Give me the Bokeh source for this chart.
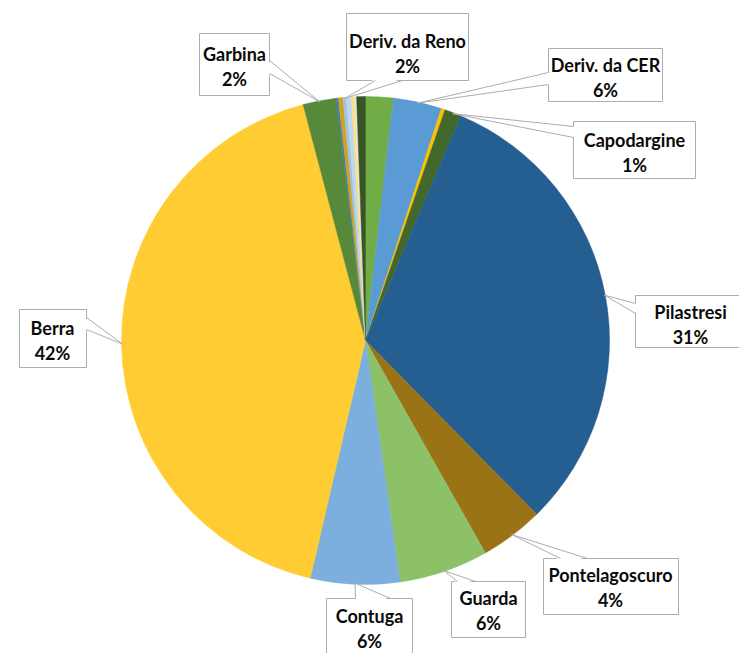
import numpy as np
from bokeh.plotting import figure
from bokeh.models import ColumnDataSource, Range1d
from bokeh.core.properties import value
from bokeh.embed import file_html
from bokeh.resources import INLINE

# ---- data (clockwise from 12 o'clock) ----
names = ["Altro 1", "Deriv. da CER", "Altro 2", "Capodargine", "Pilastresi",
         "Pontelagoscuro", "Guarda", "Contuga", "Berra", "Garbina",
         "Altro 3", "Altro 4", "Deriv. da Reno", "Altro 5", "Altro 6",
         "Altro 7", "Altro 8"]
shares = [1.83, 3.2, 0.25, 1.1, 31.2, 4.2, 5.9, 5.9, 42.2, 2.2,
          0.14, 0.3, 0.22, 0.33, 0.2, 0.14, 0.58]
colors = ["#70AD47", "#5B9BD5", "#FFC000", "#43682B", "#255E91",
          "#9A7316", "#8CC168", "#7CAFDD", "#FFCD33", "#568A3A",
          "#3F7DC4", "#D4A21A", "#9DC3E6", "#BDD7EE", "#FFDF80",
          "#E4E4E4", "#375623"]

label_names = ["Deriv. da Reno", "Garbina", "Deriv. da CER", "Capodargine",
               "Pilastresi", "Pontelagoscuro", "Guarda", "Contuga", "Berra"]
label_pcts = ["2%", "2%", "6%", "1%", "31%", "4%", "6%", "6%", "42%"]

# ---- layout (pixel coordinates, y downward) ----
W, H = 739, 653
CX, CY, R = 365, 340, 244

# box x0, y0, x1, y1, text centre x, text centre y, pointer base pts, side
layout = {
    "Deriv. da Reno": ((346, 13, 468, 80), 407, 53, ((375, 80), (402, 80)), "bottom"),
    "Garbina": ((199, 33, 269, 95), 234, 66, ((269, 60), (269, 73)), "right"),
    "Deriv. da CER": ((548, 48, 662, 101), 605, 77, ((548, 72), (548, 84)), "left"),
    "Capodargine": ((573, 121, 695, 178), 634, 152, ((573, 126), (573, 137)), "left"),
    "Pilastresi": ((635, 295, 745, 347), 690, 324, ((635, 303), (635, 313)), "left"),
    "Pontelagoscuro": ((543, 558, 678, 614), 610, 587, ((560, 558), (587, 558)), "top"),
    "Guarda": ((451, 581, 525, 637), 488, 610, ((457, 581), (475, 581)), "top"),
    "Contuga": ((326, 598, 412, 672), 369, 628, ((355, 598), (390, 598)), "top"),
    "Berra": ((19, 309, 86, 367), 52, 340, ((86, 317), (86, 329)), "right"),
}


def fy(y):
    return H - y


vals = np.array(shares, dtype=float)
end_t = np.cumsum(vals) / vals.sum() * 2 * np.pi
start_t = end_t - vals / vals.sum() * 2 * np.pi
mid_t = (start_t + end_t) / 2

src = ColumnDataSource(dict(
    name=names, share=shares, color=colors,
    start=np.pi / 2 - start_t, end=np.pi / 2 - end_t,
))

p = figure(width=W, height=H, x_range=Range1d(0, W), y_range=Range1d(0, H),
           output_backend="svg", toolbar_location=None,
           x_axis_location=None, y_axis_location=None,
           min_border=0, outline_line_color=None,
           background_fill_color="white", border_fill_color="white")
p.xgrid.visible = False
p.ygrid.visible = False

p.wedge(x=CX, y=fy(CY), radius=R, start_angle="start", end_angle="end",
        direction="clock", fill_color="color", line_color="color",
        line_width=0.5, source=src)

BORDER = "#ADADAD"
for nm, pct in zip(label_names, label_pcts):
    (x0, y0, x1, y1), tx, ty, (b1, b2), side = layout[nm]
    i = names.index(nm)
    th = mid_t[i]
    tipx = CX + (R - 1) * np.sin(th)
    tipy = CY - (R - 1) * np.cos(th)
    # box
    p.quad(left=x0, right=x1, top=fy(y0), bottom=fy(y1),
           fill_color="white", line_color=BORDER, line_width=1)
    # pointer fill (pushed slightly inside box to hide border)
    dx, dy = {"left": (2, 0), "right": (-2, 0), "top": (0, 2), "bottom": (0, -2)}[side]
    p.patch([b1[0] + dx, tipx, b2[0] + dx], [fy(b1[1] + dy), fy(tipy), fy(b2[1] + dy)],
            fill_color="white", line_color=None)
    p.multi_line([[b1[0], tipx], [b2[0], tipx]],
                 [[fy(b1[1]), fy(tipy)], [fy(b2[1]), fy(tipy)]],
                 line_color=BORDER, line_width=1)
    p.text(x=[tx, tx], y=[fy(ty - 12.5), fy(ty + 12.5)], text=[nm, pct],
           text_font=value("Lato"), text_font_style="bold",
           text_font_size="18px", text_color="#0A0A0A",
           text_align="center", text_baseline="middle")

open("out.html", "w").write(file_html(p, INLINE))
